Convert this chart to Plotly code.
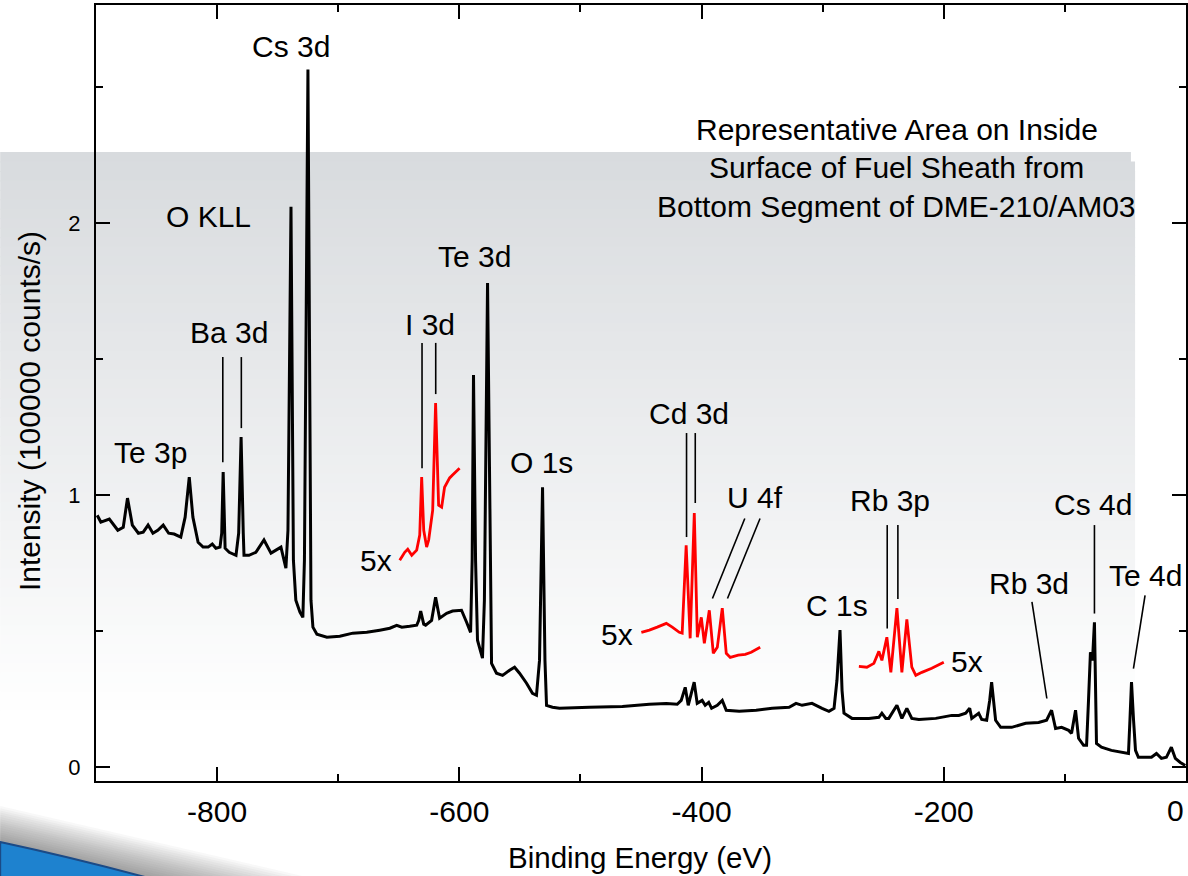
import math
import plotly.graph_objects as go

# ---------------- data (binding energy in eV, intensity in 1e5 counts/s) ----------------
energy = [-899, -896, -889, -882, -877.5, -874, -870, -865, -861, -857, -853, -849, -844.5, -840,
          -835.5, -830, -826.4, -823, -820, -815.7, -811.6, -807.4, -804, -801, -797.6, -796.2, -795,
          -794, -793.4, -790, -784.4, -782.2, -780.2, -778.4, -777.8, -773.7, -768, -761.3, -755.5,
          -751.4, -747.3, -743.2, -741.5, -739, -737, -735, -731.6, -729.2, -727.9, -725, -722.5,
          -720.9, -717.6, -709.4, -698.7, -688, -676.4, -665.7, -657.4, -651.7, -647.5, -641, -635.2,
          -633.5, -631.9, -629.4, -627.8, -622.9, -619.6, -616.3, -610.5, -605.6, -598.2, -594, -590.7,
          -589.4, -588.3, -586.6, -585, -580.9, -579.3, -576.7, -574.6, -573.4, -569.3, -564.3, -558.5,
          -554.4, -550.3, -544.5, -539.6, -536.3, -533.8, -531.3, -529.3, -528, -523.1, -517.3, -492.6,
          -465.4, -443.1, -429.1, -420.1, -416.8, -413.5, -411, -406.1, -403.6, -399.5, -397, -394.1,
          -391.7, -387, -382.9, -379.6, -368.9, -354.9, -341.7, -327.7, -322, -317, -308.8, -300.5,
          -294.8, -290.6, -288.2, -285.7, -284, -282.4, -275.8, -261.8, -253.6, -251.1, -247.9, -245.4,
          -238.7, -234.6, -230.5, -226.4, -220.6, -206.6, -193.4, -187.6, -181.9, -178.6, -176.9, -171.2,
          -168.7, -164.6, -162.1, -160.5, -158.8, -157.2, -153, -144, -132.4, -121.7, -115.1, -111,
          -107.7, -102.7, -96.9, -94.5, -91.2, -88.7, -84.6, -82.1, -80.5, -78.9, -77.2, -75.6, -73.9,
          -69.8, -61.6, -50, -47.5, -46.3, -45, -43.3, -41.7, -39.3, -28.5, -24.4, -20.3, -16.2, -12.1,
          -8.8, -4.7, -0.6]
intensity = [0.926, 0.901, 0.912, 0.871, 0.882, 0.989, 0.890, 0.860, 0.864, 0.890, 0.860, 0.871, 0.890,
             0.860, 0.857, 0.846, 0.919, 1.066, 0.919, 0.827, 0.809, 0.809, 0.820, 0.805, 0.809, 0.860,
             1.085, 0.850, 0.805, 0.790, 0.779, 0.860, 1.213, 0.860, 0.779, 0.779, 0.790, 0.835, 0.787,
             0.798, 0.809, 0.732, 0.871, 2.059, 0.761, 0.614, 0.570, 0.551, 0.761, 2.563, 0.614, 0.515,
             0.489, 0.478, 0.482, 0.493, 0.496, 0.504, 0.511, 0.522, 0.515, 0.518, 0.522, 0.540, 0.574,
             0.526, 0.522, 0.540, 0.625, 0.548, 0.566, 0.574, 0.577, 0.533, 0.496, 0.761, 1.441, 0.761,
             0.467, 0.401, 0.614, 1.779, 0.761, 0.382, 0.346, 0.338, 0.357, 0.368, 0.346, 0.309, 0.272,
             0.265, 0.393, 1.029, 0.393, 0.228, 0.221, 0.217, 0.221, 0.224, 0.232, 0.235, 0.232, 0.246,
             0.294, 0.228, 0.313, 0.235, 0.246, 0.228, 0.239, 0.217, 0.228, 0.246, 0.210, 0.206, 0.210,
             0.217, 0.221, 0.235, 0.228, 0.235, 0.217, 0.206, 0.217, 0.320, 0.504, 0.283, 0.199, 0.180,
             0.180, 0.184, 0.199, 0.180, 0.180, 0.228, 0.180, 0.217, 0.180, 0.176, 0.180, 0.191, 0.191,
             0.199, 0.217, 0.180, 0.199, 0.176, 0.173, 0.246, 0.313, 0.246, 0.173, 0.147, 0.147, 0.162,
             0.165, 0.173, 0.210, 0.143, 0.147, 0.136, 0.125, 0.210, 0.107, 0.081, 0.081, 0.246, 0.423,
             0.393, 0.533, 0.088, 0.074, 0.0625, 0.051, 0.051, 0.173, 0.313, 0.173, 0.0625, 0.037, 0.037,
             0.051, 0.033, 0.037, 0.074, 0.033, 0.018, 0.007]

# 5x magnified insets (offset vertically)
i3d_energy = [-649.2, -645.1, -642.6, -639.3, -635.2, -632.7, -631.1, -629.4, -627, -625.3, -622,
              -619.6, -617.1, -614.6, -612.2, -608, -605.6, -602.3, -599.8]
i3d_int = [0.761, 0.790, 0.801, 0.779, 0.798, 0.853, 1.066, 0.871, 0.809, 0.835, 0.945, 1.338, 0.963,
           0.956, 1.029, 1.063, 1.074, 1.088, 1.099]

cd_energy = [-449.7, -443.1, -436.6, -429.1, -424.2, -418.4, -416, -412.7, -409.4, -406, -403.5,
             -400.2, -397.7, -393.6, -390.3, -387, -382.9, -379.6, -376.3, -369.7, -363.9, -359, -351.6]
cd_int = [0.496, 0.504, 0.515, 0.529, 0.515, 0.496, 0.493, 0.816, 0.474, 0.934, 0.478, 0.551, 0.456,
          0.577, 0.419, 0.441, 0.585, 0.419, 0.404, 0.412, 0.415, 0.423, 0.441]

rb_energy = [-270.1, -263.5, -257.7, -253.6, -251.1, -247, -243.7, -238.7, -234.6, -230.5, -226.4,
             -223.1, -218.1, -209.9, -200]
rb_int = [0.371, 0.368, 0.382, 0.426, 0.393, 0.478, 0.349, 0.585, 0.349, 0.544, 0.368, 0.338, 0.349,
          0.364, 0.386]

# peak labels: text, energy, intensity
label_text = ["Cs 3d", "O KLL", "Ba 3d", "Te 3p", "I 3d", "Te 3d", "O 1s", "Cd 3d", "U 4f",
              "Rb 3p", "Cs 4d", "Rb 3d", "Te 4d", "C 1s", "5x", "5x", "5x"]
label_x = [-739, -807.5, -790, -855, -624.5, -587.3, -532, -410, -355.6,
           -244.5, -77, -130, -33.5, -288, -669, -469.5, -181]
label_y = [2.647, 2.022, 1.596, 1.158, 1.625, 1.875, 1.121, 1.298, 0.993,
           0.982, 0.967, 0.676, 0.706, 0.596, 0.761, 0.489, 0.390]

# leader lines: (x0, y0, x1, y1)
leader_x0 = [-795.3, -780.0, -630.8, -619.5, -412.4, -405.2, -364.3, -351.7, -246.7, -237.9, -127.2, -75.6, -33.8]
leader_y0 = [1.507, 1.507, 1.559, 1.559, 1.228, 1.228, 0.914, 0.914, 0.890, 0.890, 0.608, 0.890, 0.632]
leader_x1 = [-795.3, -780.0, -630.8, -619.5, -412.4, -405.2, -391.0, -378.6, -246.7, -237.9, -114.9, -75.6, -43.4]
leader_y1 = [1.121, 1.246, 1.099, 1.371, 0.846, 0.971, 0.620, 0.620, 0.510, 0.618, 0.253, 0.565, 0.363]

title_lines = ["Representative Area on Inside", "Surface of Fuel Sheath from", "Bottom Segment of DME-210/AM03"]
title_x = -238.7
title_y = [2.342, 2.202, 2.059]

x_tickvals = [-800, -600, -400, -200, 0]
x_ticktext = ["-800", "-600", "-400", "-200", ""]
x_edge_label = "0"
x_minor = [-900, -700, -500, -300, -100]
y_tickvals = [0, 1, 2]
y_ticktext = ["0", "1", "2"]
y_minor = [0.5, 1.5, 2.5]

# ---------------- layout geometry ----------------
W, H = 1188, 876
L, R, T, B = 96, 0, 5, 95
PW, PH = W - L - R, H - T - B
FONT = "Liberation Sans, Arial, sans-serif"


def px(xp):
    return (xp - L) / PW


def py(yp):
    return (H - B - yp) / PH


shapes = []
# gray gradient panel with rounded top-right corner
top, bot, right, rad = 152, 720, 1137, 16
n = 60
for i in range(n):
    y0 = top + (bot - top) * i / n
    y1 = top + (bot - top) * (i + 1) / n + 1
    t = i / (n - 1)
    c = [round(a + (255 - a) * t) for a in (216, 219, 222)]
    ymid = (y0 + y1) / 2
    xr = right
    if ymid < top + rad:
        dy = top + rad - ymid
        xr = right - rad + math.sqrt(max(rad * rad - dy * dy, 0))
    shapes.append(dict(type="rect", xref="paper", yref="paper", x0=px(0), x1=px(xr),
                       y0=py(y1), y1=py(y0), line=dict(width=0),
                       fillcolor="rgb(%d,%d,%d)" % tuple(c), layer="below"))

# swoosh shadow (soft)
for k in range(16):
    d = 36 - k * 2.2
    path = "M %f %f L %f %f L %f %f Z" % (px(0), py(842 - d), px(145 + 4.5 * d), py(877), px(0), py(877))
    shapes.append(dict(type="path", xref="paper", yref="paper", path=path,
                       fillcolor="rgba(70,70,70,0.035)", line=dict(width=0), layer="below"))
# blue swoosh
path = "M %f %f Q %f %f %f %f L %f %f L %f %f Z" % (px(0), py(842), px(70), py(857), px(145), py(877),
                                                   px(145), py(880), px(0), py(880))
shapes.append(dict(type="path", xref="paper", yref="paper", path=path,
                   fillcolor="#1e82cf", line=dict(color="#1b4a86", width=2), layer="below"))

# leader lines
for x0, y0, x1, y1 in zip(leader_x0, leader_y0, leader_x1, leader_y1):
    shapes.append(dict(type="line", xref="x", yref="y", x0=x0, y0=y0, x1=x1, y1=y1,
                       line=dict(color="black", width=1.6), layer="above"))

fig = go.Figure()
fig.add_trace(go.Scatter(x=energy, y=intensity, mode="lines",
                         line=dict(color="black", width=3), showlegend=False, hoverinfo="skip"))
for ex, iy in [(i3d_energy, i3d_int), (cd_energy, cd_int), (rb_energy, rb_int)]:
    fig.add_trace(go.Scatter(x=ex, y=iy, mode="lines",
                             line=dict(color="#ff0000", width=2.8), showlegend=False, hoverinfo="skip"))

annotations = []
for t, x, y in zip(label_text, label_x, label_y):
    annotations.append(dict(x=x, y=y, xref="x", yref="y", text=t, showarrow=False,
                            xanchor="center", yanchor="middle",
                            font=dict(family=FONT, size=30, color="black")))
for t, y in zip(title_lines, title_y):
    annotations.append(dict(x=title_x, y=y, xref="x", yref="y", text=t, showarrow=False,
                            xanchor="center", yanchor="middle",
                            font=dict(family=FONT, size=30, color="black")))
# axis titles
annotations.append(dict(x=px(30), y=py(411), xref="paper", yref="paper", text="Intensity (100000 counts/s)",
                        textangle=-90, showarrow=False, xanchor="center", yanchor="middle",
                        font=dict(family=FONT, size=30, color="black")))
annotations.append(dict(x=px(641), y=py(857), xref="paper", yref="paper", text="Binding Energy (eV)",
                        showarrow=False, xanchor="center", yanchor="middle",
                        font=dict(family=FONT, size=29.5, color="black")))
# x tick label at the right edge, kept inside the page
annotations.append(dict(x=1.0, y=py(810), xref="paper", yref="paper", text=x_edge_label,
                        showarrow=False, xanchor="right", yanchor="middle",
                        font=dict(family=FONT, size=30, color="black")))

axis_common = dict(showline=True, linecolor="black", linewidth=2, mirror="allticks",
                   ticks="inside", ticklen=14, tickwidth=2, tickcolor="black",
                   showgrid=False, zeroline=False, tickmode="array")

fig.update_layout(
    width=W, height=H, margin=dict(l=L, r=R, t=T, b=B, pad=0),
    paper_bgcolor="white", plot_bgcolor="rgba(0,0,0,0)",
    shapes=shapes, annotations=annotations, showlegend=False,
    xaxis=dict(range=[-900, 0], tickvals=x_tickvals, ticktext=x_ticktext,
               tickfont=dict(family=FONT, size=30, color="black"), ticklabelstandoff=3,
               minor=dict(tickmode="array", tickvals=x_minor, ticks="inside", ticklen=7,
                          tickwidth=2, tickcolor="black", showgrid=False),
               **axis_common),
    yaxis=dict(range=[-0.05, 2.8], tickvals=y_tickvals, ticktext=y_ticktext,
               tickfont=dict(family=FONT, size=22, color="black"), ticklabelstandoff=9,
               minor=dict(tickmode="array", tickvals=y_minor, ticks="inside", ticklen=7,
                          tickwidth=2, tickcolor="black", showgrid=False),
               **axis_common),
)

fig.write_html("out.html")
